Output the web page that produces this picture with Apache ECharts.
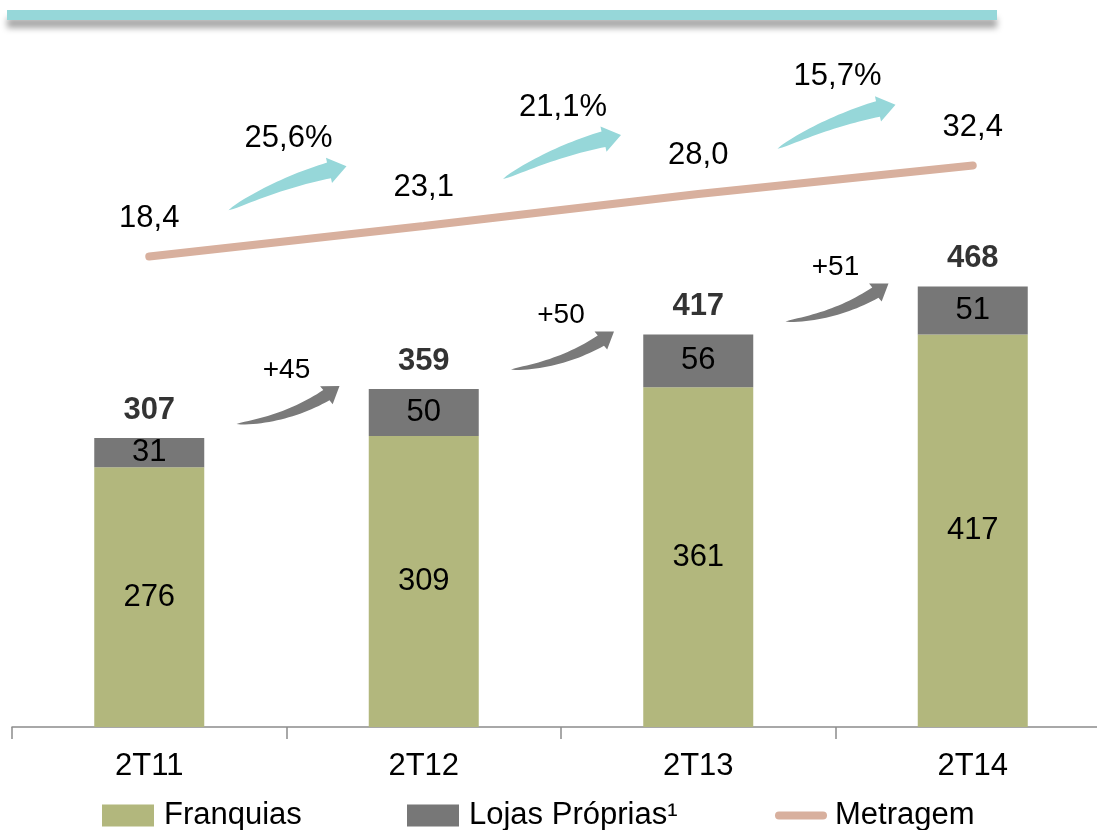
<!DOCTYPE html>
<html>
<head>
<meta charset="utf-8">
<script src="https://cdn.jsdelivr.net/npm/echarts@6/dist/echarts.min.js"></script>
<style>
  html, body { margin: 0; padding: 0; background: #fff; }
  #chart { width: 1097px; height: 830px; }
</style>
</head>
<body>
<div id="chart"></div>
<script>
var categories = ["2T11", "2T12", "2T13", "2T14"];
var franquias = [276, 309, 361, 417];
var lojasProprias = [31, 50, 56, 51];
var metragem = [18.4, 23.1, 28.0, 32.4];
var growthLabels = ["25,6%", "21,1%", "15,7%"];
var deltaLabels = ["+45", "+50", "+51"];

var totals = franquias.map(function (v, i) {
  return v + lojasProprias[i];
});

var FONT = "Liberation Sans, Arial, sans-serif";
var FS = 31;
var dom = document.getElementById("chart");
var chart = echarts.init(dom);

var option = {
  animation: false,
  backgroundColor: "#fff",
  textStyle: { fontFamily: FONT },
  grid: { left: 12, top: 68, width: 1098, height: 659, outerBoundsMode: "none", containLabel: false },
  legend: [
    {
      data: ["Franquias"], left: 97, top: 795,
      itemWidth: 52, itemHeight: 22, icon: "rect",
      textStyle: { fontSize: FS, color: "#000", padding: [0, 0, 0, 5] },
    },
    {
      data: ["Lojas Próprias¹"], left: 402, top: 795,
      itemWidth: 52, itemHeight: 22, icon: "rect",
      textStyle: { fontSize: FS, color: "#000", padding: [0, 0, 0, 5] },
    },
    {
      data: ["Metragem"], left: 770, top: 795,
      itemWidth: 52, itemHeight: 22, icon: "path://M4,8 L48,8 A4,4 0 0 1 48,16 L4,16 A4,4 0 0 1 4,8 Z",
      textStyle: { fontSize: FS, color: "#000", padding: [0, 0, 0, 3] },
    },
  ],
  xAxis: {
    type: "category",
    data: categories,
    axisLine: { lineStyle: { color: "#8c8c8c", width: 1.5 } },
    axisTick: { show: true, length: 12, lineStyle: { color: "#8c8c8c", width: 1.5 } },
    axisLabel: { fontSize: FS, color: "#000", margin: 24 },
  },
  yAxis: [
    { type: "value", min: 0, max: 700, show: false },
    { type: "value", min: -54, max: 47.4, show: false },
  ],
  series: [
    {
      name: "Franquias",
      type: "bar",
      stack: "lojas",
      barWidth: 110,
      data: franquias,
      itemStyle: { color: "#B2B77D" },
      label: { show: true, position: "inside", fontSize: FS, color: "#000" },
    },
    {
      name: "Lojas Próprias¹",
      type: "bar",
      stack: "lojas",
      barWidth: 110,
      data: lojasProprias,
      itemStyle: { color: "#777777" },
      label: { show: true, position: "inside", fontSize: FS, color: "#000" },
    },
    {
      name: "Total",
      type: "scatter",
      data: totals,
      symbolSize: 0,
      silent: true,
      label: {
        show: true, position: "top", distance: 12,
        fontSize: FS, fontWeight: "bold", color: "#000",
      },
    },
    {
      name: "Metragem",
      type: "line",
      yAxisIndex: 1,
      data: metragem,
      symbol: "circle",
      symbolSize: 0,
      color: "#D8B09E",
      lineStyle: { color: "#D8B09E", width: 8, cap: "round" },
      label: {
        show: true, position: "top", distance: 23,
        fontSize: FS, color: "#000",
        formatter: function (p) {
          return p.value.toFixed(1).replace(".", ",");
        },
      },
    },
  ],
};
chart.setOption(option);

// curved arrow as polygon sampled from a quadratic centre line
// cx, cy: where the control point sits, as fractions of the chord
function arrowPoints(T, P, bw, hw, hl, cx, cy) {
  var C0 = [T[0] + cx * (P[0] - T[0]), T[1] + cy * (P[1] - T[1])];
  var ux = P[0] - C0[0], uy = P[1] - C0[1];
  var ul = Math.sqrt(ux * ux + uy * uy);
  ux /= ul; uy /= ul;
  var B = [P[0] - ux * hl, P[1] - uy * hl];
  var C = [T[0] + cx * (B[0] - T[0]), T[1] + cy * (B[1] - T[1])];
  var upper = [], lower = [];
  var n = 24;
  for (var k = 0; k <= n; k++) {
    var t = k / n;
    var x = (1 - t) * (1 - t) * T[0] + 2 * (1 - t) * t * C[0] + t * t * B[0];
    var y = (1 - t) * (1 - t) * T[1] + 2 * (1 - t) * t * C[1] + t * t * B[1];
    var dx = 2 * (1 - t) * (C[0] - T[0]) + 2 * t * (B[0] - C[0]);
    var dy = 2 * (1 - t) * (C[1] - T[1]) + 2 * t * (B[1] - C[1]);
    var dl = Math.sqrt(dx * dx + dy * dy);
    var nx = dy / dl, ny = -dx / dl;
    var w = bw * Math.pow(t, 0.6);
    upper.push([x + nx * w, y + ny * w]);
    lower.unshift([x - nx * w, y - ny * w]);
  }
  var nx2 = uy, ny2 = -ux;
  var head = [
    [B[0] + nx2 * hw, B[1] + ny2 * hw],
    P,
    [B[0] - nx2 * hw, B[1] - ny2 * hw],
  ];
  return upper.concat(head, lower);
}

var graphics = [
  {
    type: "rect",
    shape: { x: 7, y: 10, width: 990, height: 10 },
    style: {
      fill: "#96D7D9",
      shadowColor: "rgba(0,0,0,0.35)",
      shadowBlur: 6,
      shadowOffsetY: 8,
    },
  },
];

for (var i = 0; i < 3; i++) {
  var xa = chart.convertToPixel({ xAxisIndex: 0 }, i);
  var xb = chart.convertToPixel({ xAxisIndex: 0 }, i + 1);
  var gx = (xa + xb) / 2;

  // grey arrow: growth of store count
  var topNext = chart.convertToPixel({ yAxisIndex: 0 }, totals[i + 1]);
  var tipG = [gx + 53, topNext - 3];
  var tailG = [gx - 50, topNext + 35];
  graphics.push({
    type: "polygon",
    shape: { points: arrowPoints(tailG, tipG, 6, 11, 16, 0.55, 0.15) },
    style: { fill: "#7A7A7A" },
  });
  graphics.push({
    type: "text",
    x: gx, y: tipG[1] - 16,
    style: {
      text: deltaLabels[i], fontSize: 28, fontFamily: FONT, fill: "#000",
      align: "center", verticalAlign: "middle",
    },
  });

  // teal arrow: growth of area
  var midLine = chart.convertToPixel({ yAxisIndex: 1 }, (metragem[i] + metragem[i + 1]) / 2);
  var tailT = [gx - 58, midLine - 31];
  var tipT = [gx + 60, midLine - 75];
  graphics.push({
    type: "polygon",
    shape: { points: arrowPoints(tailT, tipT, 8, 13, 18, 0.5, 0.68) },
    style: { fill: "#96D7D9" },
  });
  graphics.push({
    type: "text",
    x: gx + 2, y: midLine - 103,
    style: {
      text: growthLabels[i], fontSize: FS, fontFamily: FONT, fill: "#000",
      align: "center", verticalAlign: "middle",
    },
  });
}

chart.setOption({ graphic: graphics });
</script>
</body>
</html>
